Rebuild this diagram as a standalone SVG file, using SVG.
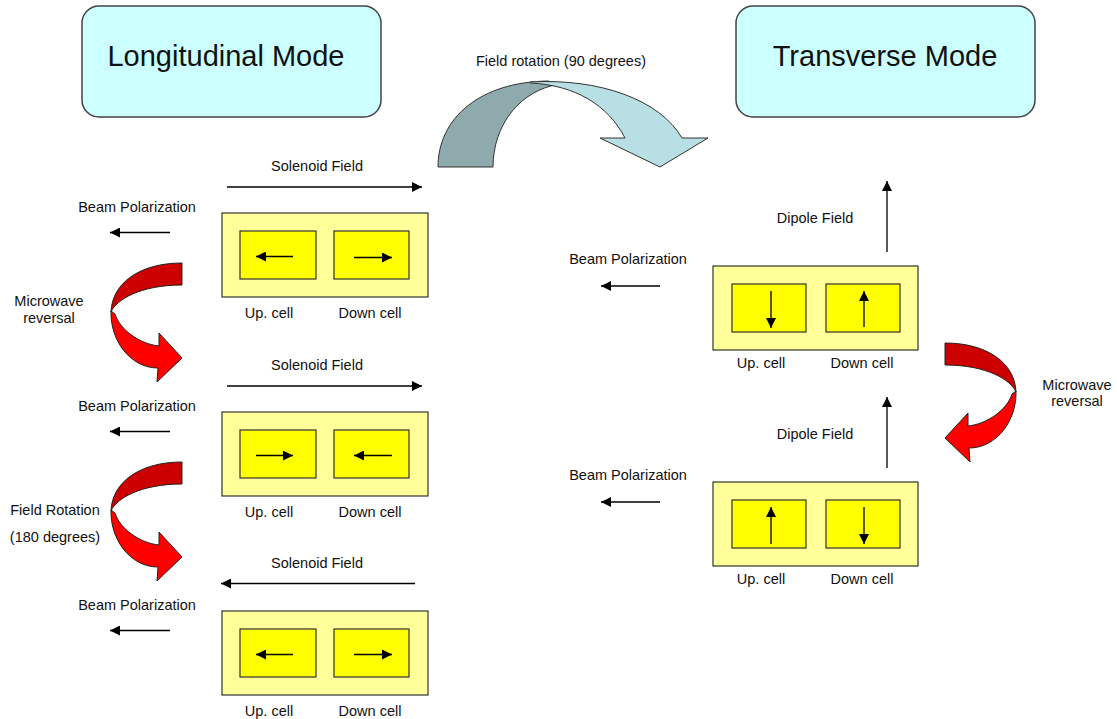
<svg xmlns="http://www.w3.org/2000/svg" width="1117" height="719" viewBox="0 0 1117 719">
<defs>
<style>
text{font-family:"Liberation Sans",Arial,sans-serif;fill:#111}
.title{font-size:29px;text-anchor:middle}
.lbl{font-size:14.5px;text-anchor:middle}
.mode{fill:#ccffff;stroke:#444;stroke-width:1.5}
.outer{fill:#ffff99;stroke:#333;stroke-width:1.2}
.cell{fill:#ffff00;stroke:#333;stroke-width:1.2}
.ln{stroke:#000;stroke-width:1.3;fill:none;marker-end:url(#ah)}
.rd{fill:#cc0000;stroke:#222;stroke-width:1}
.rb{fill:#ff0000;stroke:#222;stroke-width:1}
</style>
<marker id="ah" markerUnits="userSpaceOnUse" markerWidth="11" markerHeight="10" refX="10" refY="5" orient="auto">
<path d="M0,0 L10,5 L0,10 Z" fill="#000"/>
</marker>
<g id="redArrow">
<path class="rd" d="M182,263 C140,263 112,283 111,312 C116,300 140,285 182,285 Z"/>
<path class="rb" d="M111,311 C110,340 130,368 158,368 L157,382 L182,358 L159,333 L159,346 C140,344 120,330 115,314 Z"/>
</g>
</defs>
<rect width="1117" height="719" fill="#fff"/>

<g id="longitudinal-mode">
<rect class="mode" x="82" y="6" width="299" height="111" rx="17"/>
<text class="title" x="226" y="66">Longitudinal Mode</text>
</g>
<g id="transverse-mode">
<rect class="mode" x="736" y="6" width="299" height="111" rx="17"/>
<text class="title" x="885" y="66">Transverse Mode</text>
</g>

<g id="field-rotation-90">
<path fill="#8faaad" stroke="#333" stroke-width="1" d="M438,167 C438,118 480,82 548,81 L560,84 C520,90 493,125 493,167 Z"/>
<path fill="#b8dfe3" stroke="#333" stroke-width="1" d="M530,82 C600,78 660,100 682,138 L708,138 L660,167 L600,138 L625,138 C608,105 575,85 530,83 Z"/>
<text class="lbl" x="561" y="66">Field rotation (90 degrees)</text>
</g>

<g id="long-state-1">
<rect class="outer" x="222" y="213" width="206" height="84"/>
<rect class="cell" x="240" y="231" width="76" height="48"/>
<rect class="cell" x="334" y="231" width="75" height="48"/>
<text class="lbl" x="269" y="318">Up. cell</text>
<text class="lbl" x="370" y="318">Down cell</text>
</g>
<g id="long-state-2">
<rect class="outer" x="222" y="412" width="206" height="84"/>
<rect class="cell" x="240" y="430" width="76" height="48"/>
<rect class="cell" x="334" y="430" width="75" height="48"/>
<text class="lbl" x="269" y="517">Up. cell</text>
<text class="lbl" x="370" y="517">Down cell</text>
</g>
<g id="long-state-3">
<rect class="outer" x="222" y="611" width="206" height="84"/>
<rect class="cell" x="240" y="629" width="76" height="48"/>
<rect class="cell" x="334" y="629" width="75" height="48"/>
<text class="lbl" x="269" y="716">Up. cell</text>
<text class="lbl" x="370" y="716">Down cell</text>
</g>
<g id="trans-state-1">
<rect class="outer" x="713" y="266" width="205" height="84"/>
<rect class="cell" x="732" y="284" width="74" height="48"/>
<rect class="cell" x="826" y="284" width="74" height="48"/>
<text class="lbl" x="761" y="368">Up. cell</text>
<text class="lbl" x="862" y="368">Down cell</text>
</g>
<g id="trans-state-2">
<rect class="outer" x="713" y="482" width="205" height="84"/>
<rect class="cell" x="732" y="500" width="74" height="48"/>
<rect class="cell" x="826" y="500" width="74" height="48"/>
<text class="lbl" x="761" y="584">Up. cell</text>
<text class="lbl" x="862" y="584">Down cell</text>
</g>

<g id="labels">
<text class="lbl" x="317" y="171">Solenoid Field</text>
<text class="lbl" x="317" y="370">Solenoid Field</text>
<text class="lbl" x="317" y="568">Solenoid Field</text>
<text class="lbl" x="137" y="212">Beam Polarization</text>
<text class="lbl" x="137" y="411">Beam Polarization</text>
<text class="lbl" x="137" y="610">Beam Polarization</text>
<text class="lbl" x="49" y="306">Microwave</text>
<text class="lbl" x="49" y="323">reversal</text>
<text class="lbl" x="55" y="515">Field Rotation</text>
<text class="lbl" x="55" y="542">(180 degrees)</text>
<text class="lbl" x="815" y="223">Dipole Field</text>
<text class="lbl" x="815" y="439">Dipole Field</text>
<text class="lbl" x="628" y="264">Beam Polarization</text>
<text class="lbl" x="628" y="480">Beam Polarization</text>
<text class="lbl" x="1077" y="390">Microwave</text>
<text class="lbl" x="1077" y="406">reversal</text>
</g>

<g id="reversal-arrows">
<use href="#redArrow"/>
<use href="#redArrow" transform="translate(0,199)"/>
<use href="#redArrow" transform="translate(1127,80) scale(-1,1)"/>
</g>

<g id="connectors">
<line class="ln" x1="227" y1="187" x2="422" y2="187"/>
<line class="ln" x1="227" y1="386" x2="422" y2="386"/>
<line class="ln" x1="415" y1="583.5" x2="221" y2="583.5"/>
<line class="ln" x1="170" y1="232.5" x2="110" y2="232.5"/>
<line class="ln" x1="170" y1="431.5" x2="110" y2="431.5"/>
<line class="ln" x1="170" y1="630.5" x2="110" y2="630.5"/>
<line class="ln" x1="293" y1="256.5" x2="256" y2="256.5"/>
<line class="ln" x1="354" y1="257.5" x2="392" y2="257.5"/>
<line class="ln" x1="256" y1="455.5" x2="293" y2="455.5"/>
<line class="ln" x1="392" y1="455.5" x2="354" y2="455.5"/>
<line class="ln" x1="293" y1="654.5" x2="256" y2="654.5"/>
<line class="ln" x1="354" y1="654.5" x2="392" y2="654.5"/>
<line class="ln" x1="887" y1="252" x2="887" y2="181"/>
<line class="ln" x1="887" y1="468" x2="887" y2="397"/>
<line class="ln" x1="660" y1="286" x2="601" y2="286"/>
<line class="ln" x1="660" y1="502" x2="601" y2="502"/>
<line class="ln" x1="771" y1="291" x2="771" y2="328"/>
<line class="ln" x1="864" y1="327" x2="864" y2="291"/>
<line class="ln" x1="771" y1="544" x2="771" y2="507"/>
<line class="ln" x1="864" y1="507" x2="864" y2="544"/>
</g>
</svg>
